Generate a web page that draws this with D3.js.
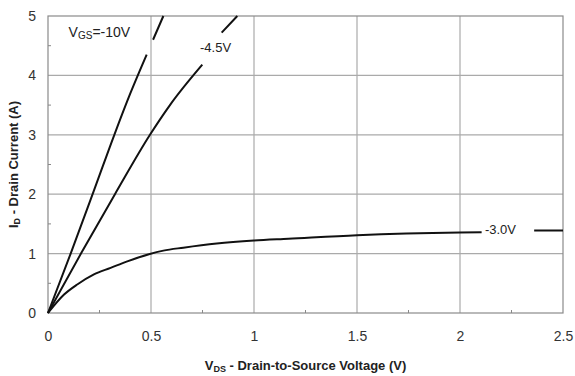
<!DOCTYPE html>
<html>
<head>
<meta charset="utf-8">
<title>Drain current vs drain-source voltage</title>
<script src="https://d3js.org/d3.v7.min.js"></script>
<style>
  body { margin: 0; background: #fff; }
  text { font-family: "Liberation Sans", Arial, Helvetica, sans-serif; }
</style>
</head>
<body>
<svg id="chart"></svg>
<script>
// curves; null marks a break in the drawn line
const vds10 = [0, 0.11, 0.225, 0.322, 0.40, 0.479, null, 0.51, 0.56];
const id10  = [0, 1.0, 2.08, 3.0, 3.7, 4.35, null, 4.6, 5.0];

const vds45 = [0, 0.16, 0.325, 0.495, 0.592, 0.749, null, 0.843, 0.919];
const id45  = [0, 1.0, 2.0, 3.0, 3.5, 4.18, null, 4.72, 5.0];

const vds30 = [0, 0.078, 0.142, 0.223, 0.304, 0.385, 0.49, 0.56, 0.657, 0.819, 1.0, 1.167, 1.5, 2.0, 2.105, null, 2.36, 2.5];
const id30  = [0, 0.31, 0.48, 0.65, 0.76, 0.87, 0.99, 1.05, 1.10, 1.17, 1.22, 1.25, 1.31, 1.356, 1.36, null, 1.39, 1.39];

const xTicks = [0, 0.5, 1, 1.5, 2, 2.5];
const xTickLabels = ['0', '0.5', '1', '1.5', '2', '2.5'];
const yTicks = [0, 1, 2, 3, 4, 5];
const xMinor = [0.25, 0.75, 1.25, 1.75, 2.25];
const yMinor = [0.5, 1.5, 2.5, 3.5, 4.5];

const W = 575, H = 376;
const margin = {top: 16, right: 12, bottom: 63, left: 48};

const svg = d3.select('#chart').attr('width', W).attr('height', H);
const g = svg.append('g').attr('transform', `translate(${margin.left},${margin.top})`);
const iw = W - margin.left - margin.right;
const ih = H - margin.top - margin.bottom;

const x = d3.scaleLinear().domain([0, 2.5]).range([0, iw]);
const y = d3.scaleLinear().domain([0, 5]).range([ih, 0]);

// grid
g.selectAll('.vgrid').data(xTicks.slice(1, -1)).join('line')
  .attr('x1', d => x(d)).attr('x2', d => x(d))
  .attr('y1', 0).attr('y2', ih)
  .style('stroke', '#aaa').style('stroke-width', 1.2);
g.selectAll('.hgrid').data(yTicks.slice(1, -1)).join('line')
  .attr('x1', 0).attr('x2', iw)
  .attr('y1', d => y(d)).attr('y2', d => y(d))
  .style('stroke', '#aaa').style('stroke-width', 1.2);

// frame
g.append('rect').attr('width', iw).attr('height', ih)
  .style('fill', 'none').style('stroke', '#8a8a8a').style('stroke-width', 1.2);

// minor ticks, drawn inside
g.selectAll('.xminor').data(xMinor).join('line')
  .attr('x1', d => x(d)).attr('x2', d => x(d))
  .attr('y1', ih).attr('y2', ih - 3)
  .style('stroke', '#888');
g.selectAll('.yminor').data(yMinor).join('line')
  .attr('x1', 0).attr('x2', 3)
  .attr('y1', d => y(d)).attr('y2', d => y(d))
  .style('stroke', '#888');

// axes (labels only, the frame is the axis line)
const xAxis = g.append('g').attr('transform', `translate(0,${ih})`)
  .call(d3.axisBottom(x).tickValues(xTicks).tickFormat((d, i) => xTickLabels[i]).tickSize(0).tickPadding(18));
const yAxis = g.append('g')
  .call(d3.axisLeft(y).tickValues(yTicks).tickFormat(d3.format('d')).tickSize(0).tickPadding(12));
[xAxis, yAxis].forEach(a => {
  a.select('.domain').remove();
  a.selectAll('text').style('font-size', '14px').style('fill', '#333')
    .style('font-family', '"Liberation Sans", Arial, sans-serif');
});

// curves
const line = d3.line()
  .defined(d => d[0] !== null)
  .x(d => x(d[0]))
  .y(d => y(d[1]))
  .curve(d3.curveMonotoneX);

[[vds10, id10], [vds45, id45], [vds30, id30]].forEach(([xs, ys]) => {
  g.append('path')
    .attr('d', line(xs.map((v, i) => [v, ys[i]])))
    .style('fill', 'none')
    .style('stroke', '#111')
    .style('stroke-width', 2);
});

// curve labels
const lab1 = g.append('text').attr('x', x(0.1)).attr('y', y(4.64))
  .style('font-size', '14px').style('fill', '#222');
lab1.append('tspan').text('V');
lab1.append('tspan').text('GS').style('font-size', '10px').attr('dy', 2);
lab1.append('tspan').text('=-10V').attr('dy', -2);

g.append('text').attr('x', x(0.738)).attr('y', y(4.4))
  .style('font-size', '13px').style('fill', '#222').text('-4.5V');
g.append('text').attr('x', x(2.121)).attr('y', y(1.33))
  .style('font-size', '13px').style('fill', '#222').text('-3.0V');

// axis titles
const xt = svg.append('text')
  .attr('x', margin.left + iw / 2).attr('y', 370)
  .attr('text-anchor', 'middle')
  .style('font-size', '13px').style('font-weight', 'bold').style('fill', '#222');
xt.append('tspan').text('V');
xt.append('tspan').text('DS').style('font-size', '9px').attr('dy', 2);
xt.append('tspan').text(' - Drain-to-Source Voltage (V)').attr('dy', -2);

const yt = svg.append('text')
  .attr('transform', `translate(18,${margin.top + ih / 2}) rotate(-90)`)
  .attr('text-anchor', 'middle')
  .style('font-size', '13px').style('font-weight', 'bold').style('fill', '#222');
yt.append('tspan').text('I');
yt.append('tspan').text('D').style('font-size', '9px').attr('dy', 2);
yt.append('tspan').text(' - Drain Current (A)').attr('dy', -2);
</script>
</body>
</html>
